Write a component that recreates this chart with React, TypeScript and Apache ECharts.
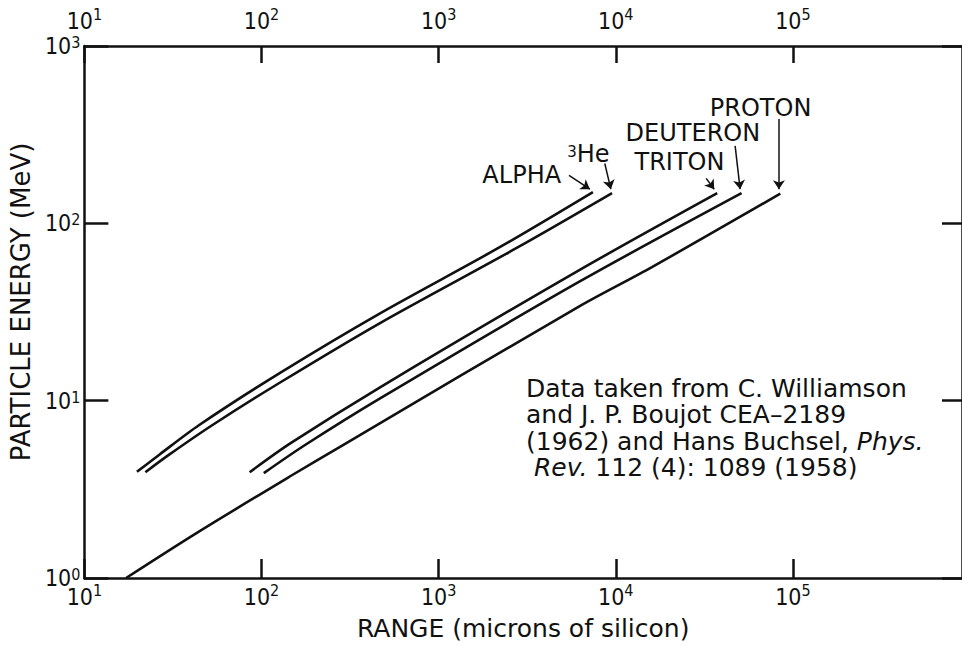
import React, { useEffect, useRef } from 'react';
import * as echarts from 'echarts';

const FONT = '"DejaVu Sans", "Liberation Sans", sans-serif';
const TICK_FONT = '"Liberation Sans Narrow", "DejaVu Sans Condensed", "Liberation Sans", sans-serif';
const INK = '#111111';

// Range (microns of silicon) vs particle energy (MeV)
const alphaRange = [19.8, 26.5, 44.5, 128, 467, 2200, 7430];
const alphaEnergy = [3.97, 4.96, 7.29, 14.4, 31.1, 73.1, 150];

const he3Range = [22.1, 30.1, 52.9, 128, 467, 2790, 9530];
const he3Energy = [3.95, 4.96, 7.29, 12.7, 27.4, 73.1, 148];

const tritonRange = [85.7, 146, 467, 6190, 37400];
const tritonEnergy = [3.95, 5.76, 11.9, 54.3, 148];

const deuteronRange = [103, 177, 467, 6190, 51300];
const deuteronEnergy = [3.9, 5.64, 10.3, 46.7, 148];

const protonRange = [17.2, 42.5, 146, 290, 6190, 16000, 84900];
const protonEnergy = [1.0, 1.78, 3.76, 5.64, 33.9, 56.6, 147];

// Curve labels (centre of text) and their arrows
const labelNames = ['ALPHA', '{sup|3}He', 'TRITON', 'DEUTERON', 'PROTON'];
const labelRange = [2945, 7006, 22890, 27250, 65700];
const labelEnergy = [186.4, 245.5, 221.6, 321.4, 448.5];
const arrowFromRange = [5445, 8670, 32400, 47200, 83400];
const arrowFromEnergy = [186.4, 217.4, 179.4, 273.7, 387];
const arrowToRange = [7145, 9380, 35960, 50350, 83400];
const arrowToEnergy = [155.8, 155.8, 155.8, 155.8, 155.8];

const xMin = 10;
const xMax = 901000;
const yMin = 1;
const yMax = 1000;

const noteLines = [
  'Data taken from C. Williamson',
  'and J. P. Boujot CEA–2189',
  '(1962) and Hans Buchsel, {i|Phys.}',
  ' {i|Rev.} 112 (4): 1089 (1958)',
];

const zip = (a: number[], b: number[]) => a.map((v, i) => [v, b[i]]);

const powLabel = (v: number) => {
  const l = Math.log10(v);
  const e = Math.round(l);
  if (Math.abs(l - e) > 1e-6) return '';
  return `{b|10}{s|${e}}`;
};

const xTickRich = {
  b: { fontSize: 23, fontFamily: TICK_FONT, color: INK, verticalAlign: 'bottom', lineHeight: 26 },
  s: { fontSize: 16, fontFamily: TICK_FONT, color: INK, verticalAlign: 'top' },
};
const yTickRich = {
  b: { fontSize: 23, fontFamily: TICK_FONT, color: INK, verticalAlign: 'bottom', lineHeight: 23 },
  s: { fontSize: 16, fontFamily: TICK_FONT, color: INK, verticalAlign: 'top' },
};

export default function App() {
  const ref = useRef<HTMLDivElement>(null);
  useEffect(() => {
    const chart = echarts.init(ref.current!, null, { renderer: 'svg' });
    const curves = [
      zip(alphaRange, alphaEnergy),
      zip(he3Range, he3Energy),
      zip(tritonRange, tritonEnergy),
      zip(deuteronRange, deuteronEnergy),
      zip(protonRange, protonEnergy),
    ];
    const names = ['Alpha', '3He', 'Triton', 'Deuteron', 'Proton'];
    const series: any[] = curves.map((d, i) => ({
      name: names[i],
      type: 'line',
      data: d,
      smooth: 0.3,
      showSymbol: false,
      symbol: 'none',
      itemStyle: { color: INK },
      lineStyle: { color: INK, width: 2.6 },
      silent: true,
      markPoint: {
        symbol: 'circle',
        symbolSize: 0,
        silent: true,
        label: {
          show: true,
          position: 'inside',
          formatter: labelNames[i],
          fontSize: 24,
          lineHeight: 20,
          fontFamily: FONT,
          color: INK,
          rich: {
            sup: { fontSize: 15, fontFamily: FONT, color: INK, verticalAlign: 'top', lineHeight: 8 },
          },
        },
        data: [{ coord: [labelRange[i], labelEnergy[i]] }],
      },
      markLine: {
        silent: true,
        symbol: ['none', 'arrow'],
        symbolSize: 9,
        label: { show: false },
        itemStyle: { color: INK },
        lineStyle: { color: INK, width: 1.5, type: 'solid' },
        emphasis: { disabled: true },
        data: [[
          { coord: [arrowFromRange[i], arrowFromEnergy[i]] },
          { coord: [arrowToRange[i], arrowToEnergy[i]] },
        ]],
      },
    }));

    const option: any = {
      animation: false,
      backgroundColor: '#ffffff',
      grid: { left: 83, top: 46, right: -3, bottom: 61, containLabel: false },
      xAxis: [
        {
          type: 'log',
          position: 'bottom',
          min: xMin,
          max: xMax,
          splitNumber: 5,
          name: 'RANGE (microns of silicon)',
          nameLocation: 'middle',
          nameGap: 38,
          nameTextStyle: { fontSize: 25, fontFamily: FONT, color: INK },
          axisLine: { show: true, lineStyle: { color: INK, width: 2.5 } },
          axisTick: { show: true, inside: true, length: 19, lineStyle: { color: INK, width: 2.5 } },
          axisLabel: { show: true, formatter: powLabel, rich: xTickRich, margin: 4, showMinLabel: true, showMaxLabel: false },
          splitLine: { show: false },
          minorTick: { show: false },
        },
        {
          type: 'log',
          position: 'top',
          min: xMin,
          max: xMax,
          splitNumber: 5,
          axisLine: { show: true, lineStyle: { color: INK, width: 2.5 } },
          axisTick: { show: true, inside: true, length: 17, lineStyle: { color: INK, width: 2.5 } },
          axisLabel: { show: true, formatter: powLabel, rich: xTickRich, margin: 14, showMinLabel: true, showMaxLabel: false },
          splitLine: { show: false },
        },
      ],
      yAxis: [
        {
          type: 'log',
          position: 'left',
          min: yMin,
          max: yMax,
          splitNumber: 3,
          name: 'PARTICLE ENERGY (MeV)',
          nameLocation: 'middle',
          nameGap: 45,
          nameRotate: 90,
          nameTextStyle: { fontSize: 26, fontFamily: FONT, color: INK, padding: [0, 0, 0, 20] },
          axisLine: { show: true, lineStyle: { color: INK, width: 2.5 } },
          axisTick: { show: true, inside: true, length: 24, lineStyle: { color: INK, width: 2.5 } },
          axisLabel: { show: true, formatter: powLabel, rich: yTickRich, margin: 4, showMinLabel: true, showMaxLabel: true },
          splitLine: { show: false },
        },
        {
          type: 'log',
          position: 'right',
          min: yMin,
          max: yMax,
          splitNumber: 3,
          axisLine: { show: true, lineStyle: { color: INK, width: 2.5 } },
          axisTick: { show: true, inside: true, length: 20, lineStyle: { color: INK, width: 2.5 } },
          axisLabel: { show: false },
          splitLine: { show: false },
        },
      ],
      graphic: [
        {
          type: 'text',
          left: 526,
          top: 375,
          silent: true,
          style: {
            text: noteLines.join('\n'),
            fontSize: 25,
            fontFamily: FONT,
            fill: INK,
            lineHeight: 26.5,
            rich: {
              i: { fontSize: 25, fontFamily: FONT, fontStyle: 'italic', fill: INK, lineHeight: 26.5 },
            },
          },
        },
      ],
      series,
    };
    chart.setOption(option);
    return () => chart.dispose();
  }, []);
  return (
    <div
      ref={ref}
      style={{ position: 'fixed', left: 0, top: 0, width: 962, height: 646, background: '#ffffff' }}
    />
  );
}
